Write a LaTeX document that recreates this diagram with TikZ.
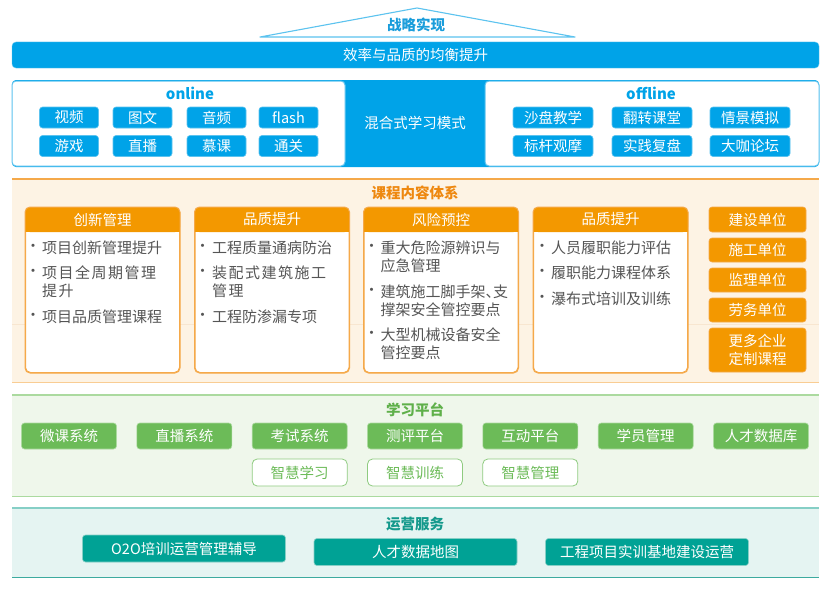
\documentclass[tikz,border=0pt]{standalone}
\usepackage{fontspec}
\setmainfont{Noto Sans CJK SC}
\definecolor{mblue}{HTML}{00A3E8}
\definecolor{lblue}{HTML}{5CC3EF}
\definecolor{tblue}{HTML}{1A9DDB}
\definecolor{corange}{HTML}{F39800}
\definecolor{torange}{HTML}{EE8810}
\definecolor{cream}{HTML}{FDF3E4}
\definecolor{creamline}{HTML}{F8E6D0}
\definecolor{oline}{HTML}{F5A94A}
\definecolor{oline2}{HTML}{F9CD93}
\definecolor{cgreen}{HTML}{6CBB58}
\definecolor{tgreen}{HTML}{5FB04A}
\definecolor{lgreen}{HTML}{EFF7EB}
\definecolor{gline}{HTML}{ABDA9F}
\definecolor{wline}{HTML}{8FCB80}
\definecolor{cteal}{HTML}{00A295}
\definecolor{tteal}{HTML}{14998C}
\definecolor{lteal}{HTML}{E5F4F2}
\definecolor{tline}{HTML}{86CFC6}
\definecolor{tline2}{HTML}{3CAA9F}
\definecolor{ltxt}{HTML}{555555}
\newcommand\mkcard[3]{%
  \node[cardbody, anchor=north west] (#1) at (#2,207) {};
  \fill[corange, rounded corners=5pt] (#1.north west) rectangle ([yshift=-25pt]#1.north east);
  \fill[corange] ([yshift=-12pt]#1.north west) rectangle ([yshift=-25pt]#1.north east);
  \draw[oline, line width=1pt, rounded corners=5pt] (#1.north west) rectangle (#1.south east);
  \node[f, text=white, inner sep=0pt] (#1h) at ([yshift=-12.5pt]#1.north) {#3};
}
\begin{document}
\begin{tikzpicture}[x=1pt,y=-1pt,
  f/.style={font=\fontsize{14.5}{17}\selectfont},
  ttl/.style={font=\fontsize{14.5}{17}\selectfont\bfseries, inner sep=0pt},
  btn/.style={f, text=white, rounded corners=3pt, inner sep=0pt},
  bbtn/.style={btn, fill=mblue, draw=lblue, line width=0.6pt, minimum height=21pt},
  obtn/.style={btn, fill=corange, draw=oline, line width=0.6pt, minimum width=97pt, align=center},
  gbtn/.style={btn, fill=cgreen, draw=gline, line width=0.6pt, minimum width=95pt, minimum height=26pt},
  wbtn/.style={btn, fill=white, draw=wline, line width=0.8pt, rounded corners=5pt, text=cgreen, minimum width=95pt, minimum height=27pt},
  tbtn/.style={btn, fill=cteal, draw=tline, line width=0.6pt, minimum width=203pt, minimum height=27pt},
  cardbody/.style={draw=oline, fill=white, line width=1pt, rounded corners=5pt, minimum width=154pt, minimum height=165pt, inner sep=0pt},
  item/.style={font=\fontsize{15}{18}\selectfont, text=ltxt, align=left, inner sep=0pt, anchor=west},
  bul/.style={font=\fontsize{15}{18}\selectfont, text=ltxt, inner sep=0pt},
  secbg/.style={inner sep=0pt, minimum width=807pt, anchor=north west}
]
\useasboundingbox (0,0) rectangle (837,594);
\fill[white] (0,0) rectangle (837,594);

% ---- top: strategy
\coordinate (triL) at (260,37);
\coordinate (triT) at (417,8);
\coordinate (triR) at (575,37);
\draw[lblue, line width=1.1pt, line join=round] (triL) -- (triT) -- (triR) -- cycle;
\node[ttl, text=tblue] (strat) at (416,25) {战略实现};
\node[btn, fill=mblue, draw=lblue, minimum width=807pt, minimum height=26pt, rounded corners=4pt] (bar) at (415.5,55) {效率与品质的均衡提升};

% ---- blended learning
\node[fill=mblue, rounded corners=4pt, minimum width=807pt, minimum height=87pt, inner sep=0pt] (blend) at (415.5,123.5) {};
\node[fill=white, draw=lblue, line width=1pt, rounded corners=4pt, minimum width=333pt, minimum height=85pt, inner sep=0pt] (onbox) at (178.5,123.5) {};
\node[fill=white, draw=lblue, line width=1pt, rounded corners=4pt, minimum width=334pt, minimum height=85pt, inner sep=0pt] (offbox) at (652,123.5) {};
\node[f, text=white, inner sep=0pt] (mix) at (415,123) {混合式学习模式};
\node[ttl, text=mblue, font=\fontsize{15}{17}\selectfont\bfseries] (online) at (190,93) {online};
\node[ttl, text=mblue, font=\fontsize{15}{17}\selectfont\bfseries] (offline) at (651,93) {offline};

\node[bbtn, minimum width=59pt] (on1) at (69,117.5) {视频};
\node[bbtn, minimum width=59pt] (on2) at (142.5,117.5) {图文};
\node[bbtn, minimum width=59pt] (on3) at (216.5,117.5) {音频};
\node[bbtn, minimum width=59pt] (on4) at (288.5,117.5) {flash};
\node[bbtn, minimum width=59pt] (on5) at (69,146) {游戏};
\node[bbtn, minimum width=59pt] (on6) at (142.5,146) {直播};
\node[bbtn, minimum width=59pt] (on7) at (216.5,146) {慕课};
\node[bbtn, minimum width=59pt] (on8) at (288.5,146) {通关};

\node[bbtn, minimum width=80pt] (of1) at (553,117.5) {沙盘教学};
\node[bbtn, minimum width=80pt] (of2) at (652,117.5) {翻转课堂};
\node[bbtn, minimum width=80pt] (of3) at (750,117.5) {情景模拟};
\node[bbtn, minimum width=80pt] (of4) at (553,146) {标杆观摩};
\node[bbtn, minimum width=80pt] (of5) at (652,146) {实践复盘};
\node[bbtn, minimum width=80pt] (of6) at (750,146) {大咖论坛};

% ---- course content
\node[secbg, fill=cream, minimum height=203pt] (csec) at (12,179) {};
\draw[creamline, line width=0.8pt] ([yshift=-145pt]csec.north west) -- ([yshift=-145pt]csec.north east);
\draw[oline, line width=1.2pt] (csec.north west) -- (csec.north east);
\draw[oline2, line width=1.5pt] (csec.south west) -- (csec.south east);
\node[ttl, text=torange] (ctitle) at (415,193) {课程内容体系};

\mkcard{c1}{25}{创新管理}
\mkcard{c2}{194.5}{品质提升}
\mkcard{c3}{363.5}{风险预控}
\mkcard{c4}{533}{品质提升}

% card 1
\node[bul] (c1b1) at (33,248) {·};
\node[item] (c1i1) at (42,248) {项目创新管理提升};
\node[bul] (c1b2) at (33,273) {·};
\node[item] (c1i2) at (42,282) {\addfontfeature{LetterSpace=10}项目全周期管理\\\addfontfeature{LetterSpace=10}提升};
\node[bul] (c1b3) at (33,317) {·};
\node[item] (c1i3) at (42,317) {项目品质管理课程};
% card 2
\node[bul] (c2b1) at (202.5,248) {·};
\node[item] (c2i1) at (212,248) {工程质量通病防治};
\node[bul] (c2b2) at (202.5,273) {·};
\node[item] (c2i2) at (212,282) {\addfontfeature{LetterSpace=10}装配式建筑施工\\\addfontfeature{LetterSpace=10}管理};
\node[bul] (c2b3) at (202.5,317) {·};
\node[item] (c2i3) at (212,317) {工程防渗漏专项};
% card 3
\node[bul] (c3b1) at (371.5,248) {·};
\node[item] (c3i1) at (380.5,257) {重大危险源辨识与\\应急管理};
\node[bul] (c3b2) at (371.5,292) {·};
\node[item] (c3i2) at (380.5,301) {建筑施工脚手架、\kern-0.5em支\\撑架安全管控要点};
\node[bul] (c3b3) at (371.5,335) {·};
\node[item] (c3i3) at (380.5,344) {大型机械设备安全\\管控要点};
% card 4
\node[bul] (c4b1) at (542,248) {·};
\node[item] (c4i1) at (551,248) {人员履职能力评估};
\node[bul] (c4b2) at (542,273) {·};
\node[item] (c4i2) at (551,273) {履职能力课程体系};
\node[bul] (c4b3) at (542,299) {·};
\node[item] (c4i3) at (551,299) {瀑布式培训及训练};

% right column
\node[obtn, minimum height=25pt] (u1) at (757.5,219.5) {建设单位};
\node[obtn, minimum height=24pt] (u2) at (757.5,250) {施工单位};
\node[obtn, minimum height=24pt] (u3) at (757.5,280) {监理单位};
\node[obtn, minimum height=24pt] (u4) at (757.5,310) {劳务单位};
\node[obtn, minimum height=44pt, font=\fontsize{14.5}{18}\selectfont] (u5) at (757.5,350) {更多企业\\定制课程};

% ---- learning platform
\node[secbg, fill=lgreen, minimum height=101pt] (psec) at (12,395) {};
\draw[gline, line width=1.5pt] (psec.north west) -- (psec.north east);
\draw[gline, line width=1.5pt] (psec.south west) -- (psec.south east);
\node[ttl, text=tgreen] (ptitle) at (415,410) {学习平台};
\node[gbtn] (p1) at (69,436) {微课系统};
\node[gbtn] (p2) at (184.3,436) {直播系统};
\node[gbtn] (p3) at (299.7,436) {考试系统};
\node[gbtn] (p4) at (415,436) {测评平台};
\node[gbtn] (p5) at (530.3,436) {互动平台};
\node[gbtn] (p6) at (645.7,436) {学员管理};
\node[gbtn] (p7) at (761,436) {人才数据库};
\node[wbtn] (q1) at (299.7,472.5) {智慧学习};
\node[wbtn] (q2) at (415,472.5) {智慧训练};
\node[wbtn] (q3) at (530.3,472.5) {智慧管理};

% ---- operations
\node[secbg, fill=lteal, minimum height=69pt] (osec) at (12,508) {};
\draw[tline, line width=1.5pt] (osec.north west) -- (osec.north east);
\draw[tline2, line width=1.5pt] (osec.south west) -- (osec.south east);
\node[ttl, text=tteal] (otitle) at (415,524) {运营服务};
\node[tbtn] (o1) at (184,548.5) {O2O培训运营管理辅导};
\node[tbtn] (o2) at (415.5,552) {人才数据地图};
\node[tbtn] (o3) at (647,552) {工程项目实训基地建设运营};
\end{tikzpicture}
\end{document}
